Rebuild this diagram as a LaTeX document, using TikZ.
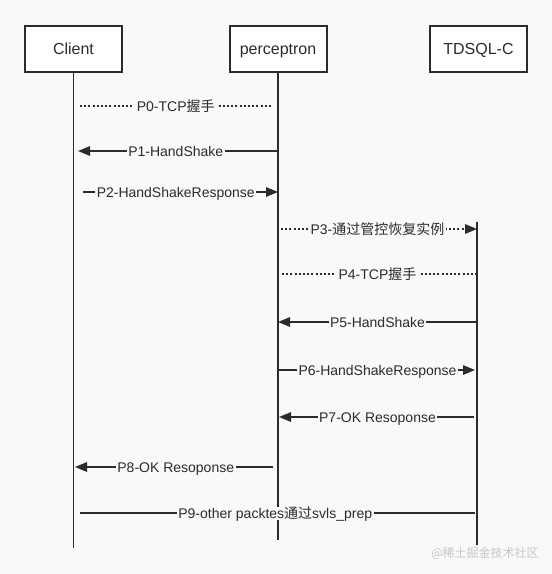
\documentclass[tikz,border=0pt]{standalone}
\usepackage{fontspec}
\setmainfont{Liberation Sans}
\newfontfamily\cjk{Noto Sans CJK SC}
\usetikzlibrary{arrows.meta}

\definecolor{bgcol}{HTML}{F9F9F9}
\definecolor{inkcol}{HTML}{2B2B2B}

\tikzset{
    actor/.style={draw=inkcol, line width=2pt, fill=white, minimum width=97pt,
        minimum height=46pt, text height=12pt, text depth=2pt,
        font=\fontsize{16}{18}\selectfont, text=inkcol},
    life/.style={draw=inkcol, line width=1.8pt},
    msg/.style={draw=inkcol, line width=1.5pt},
    reply/.style={msg, dash pattern=on 2pt off 2.2pt},
    tip/.style={-{Triangle[length=12pt,width=9.5pt]}},
    lbl/.style={fill=bgcol, inner sep=1.5pt, text height=10pt, text depth=0pt,
        text=inkcol, font=\fontsize{14}{16}\selectfont}
}

\begin{document}
\begin{tikzpicture}[x=1pt, y=-1pt]
    \fill[bgcol] (0,0) rectangle (552,574);
    \useasboundingbox (0,0) rectangle (552,574);

    % participants
    \node[actor] (client) at (73.5,49) {Client};
    \node[actor] (percep) at (278,49) {perceptron};
    \node[actor] (tdsql) at (478.5,49) {TDSQL-C};

    % lifelines
    \coordinate (clientEnd) at (73.5,548);
    \coordinate (percepEnd) at (278,540);
    \coordinate (tdsqlTop) at (477,222);
    \coordinate (tdsqlEnd) at (477,545);
    \draw[life] (client.south) -- (clientEnd);
    \draw[life] (percep.south) -- (percepEnd);
    \draw[life] (tdsqlTop) -- (tdsqlEnd);

    % messages
    \draw[reply, shorten <=6.5pt, shorten >=5pt] (client |- 0,106) -- (percep |- 0,106)
        node[lbl, midway] {P0-TCP{\cjk 握手}};
    \draw[msg, tip, shorten >=4.5pt] (percep |- 0,151) -- (client |- 0,151)
        node[lbl, midway] {P1-HandShake};
    \draw[msg, tip, shorten <=9.5pt] (client |- 0,192) -- (percep |- 0,192)
        node[lbl, midway] {P2-HandShakeResponse};
    \draw[reply, tip, shorten <=3pt] (percep |- 0,229) -- (tdsqlTop |- 0,229)
        node[lbl, midway] {P3-{\cjk 通过管控恢复实例}};
    \draw[reply, shorten <=4pt, shorten >=1pt] (percep |- 0,274) -- (tdsqlTop |- 0,274)
        node[lbl, midway] {P4-TCP{\cjk 握手}};
    \draw[msg, tip] (tdsqlTop |- 0,322) -- (percep |- 0,322)
        node[lbl, midway] {P5-HandShake};
    \draw[msg, tip, shorten >=2pt] (percep |- 0,370) -- (tdsqlTop |- 0,370)
        node[lbl, midway] {P6-HandShakeResponse};
    \draw[msg, tip, shorten <=3pt, shorten >=1pt] (tdsqlTop |- 0,417) -- (percep |- 0,417)
        node[lbl, midway] {P7-OK Resoponse};
    \draw[msg, tip, shorten <=5pt, shorten >=1.5pt] (percep |- 0,467) -- (client |- 0,467)
        node[lbl, midway] {P8-OK Resoponse};
    \draw[msg, shorten <=6.5pt, shorten >=2pt] (client |- 0,513) -- (tdsqlTop |- 0,513)
        node[lbl, midway] {P9-other packtes{\cjk 通过}svls\_prep};

    \node[text=gray!45, font=\cjk\fontsize{12}{14}\selectfont] (wm) at (485,553) {@稀土掘金技术社区};
\end{tikzpicture}
\end{document}
